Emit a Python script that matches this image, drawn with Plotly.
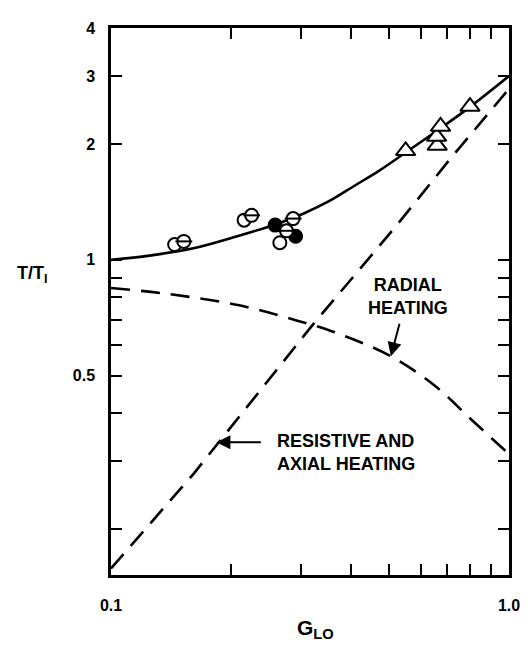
import numpy as np
import plotly.graph_objects as go

# ---- data ----
# total (solid curve)
g_total = [0.1, 0.125, 0.16, 0.2065, 0.261, 0.305, 0.353, 0.41, 0.47, 0.55, 0.67, 0.80, 1.0]
t_total = [1.0, 1.026, 1.07, 1.15, 1.24, 1.32, 1.42, 1.56, 1.70, 1.90, 2.19, 2.50, 3.0]

# radial heating (dashed)
g_radial = [0.1, 0.14, 0.21, 0.294, 0.36, 0.50, 0.65, 0.80, 1.0]
t_radial = [0.845, 0.815, 0.762, 0.695, 0.652, 0.565, 0.472, 0.387, 0.313]

# resistive and axial heating (dashed)
g_resist = [0.1, 0.162, 0.32, 0.519, 0.712, 1.0]
t_resist = [0.158, 0.28, 0.675, 1.22, 1.83, 2.78]

# data points
g_open = [0.1445, 0.216, 0.2656]
t_open = [1.096, 1.268, 1.108]
g_theta = [0.1524, 0.2256, 0.2868, 0.276]
t_theta = [1.117, 1.305, 1.28, 1.19]
g_filled = [0.2585, 0.291]
t_filled = [1.231, 1.152]
g_tri = [0.55, 0.66, 0.658, 0.673, 0.798]
t_tri = [1.92, 1.98, 2.09, 2.22, 2.50]

x_tickvals = [0.1, 0.2, 0.3, 0.4, 0.5, 0.6, 0.7, 0.8, 0.9, 1.0]
x_ticktext = ["0.1", "", "", "", "", "", "", "", "", "1.0"]
y_tickvals = [0.2, 0.3, 0.4, 0.5, 0.6, 0.7, 0.8, 0.9, 1, 2, 3, 4]
y_ticktext = ["", "", "", "0.5", "", "", "", "", "1", "2", "3", "4"]

FONT = "Liberation Sans"
fig = go.Figure()

fig.add_trace(go.Scatter(x=g_radial, y=t_radial, mode="lines",
                         line=dict(color="black", width=2.6, dash="19px,11px", shape="spline", smoothing=1.0)))
fig.add_trace(go.Scatter(x=g_resist, y=t_resist, mode="lines",
                         line=dict(color="black", width=2.6, dash="19px,11px")))
fig.add_trace(go.Scatter(x=g_total, y=t_total, mode="lines",
                         line=dict(color="black", width=2.6, shape="spline", smoothing=1.0)))

fig.add_trace(go.Scatter(x=g_open, y=t_open, mode="markers",
                         marker=dict(symbol="circle", size=13, color="white",
                                     line=dict(color="black", width=2))))
fig.add_trace(go.Scatter(x=g_filled, y=t_filled, mode="markers",
                         marker=dict(symbol="circle", size=13, color="black",
                                     line=dict(color="black", width=2))))
fig.add_trace(go.Scatter(x=g_theta, y=t_theta, mode="markers",
                         marker=dict(symbol="circle", size=13, color="white",
                                     line=dict(color="black", width=2))))
fig.add_trace(go.Scatter(x=g_theta, y=t_theta, mode="markers",
                         marker=dict(symbol="line-ew-open", size=12, color="black",
                                     line=dict(color="black", width=2))))
fig.add_trace(go.Scatter(x=g_tri, y=t_tri, mode="markers",
                         marker=dict(symbol="triangle-up", size=17, color="white",
                                     line=dict(color="black", width=2))))

tickfont = dict(family=FONT, size=16, color="black", weight="bold")
fig.update_xaxes(type="log", range=[-1, 0], tickvals=x_tickvals, ticktext=x_ticktext,
                 ticks="inside", ticklen=11, tickwidth=2, tickcolor="black",
                 showline=True, linewidth=2.5, linecolor="black", mirror="ticks",
                 showgrid=False, zeroline=False, tickfont=tickfont, ticklabelstandoff=14)
fig.update_yaxes(type="log", range=[np.log10(0.152), np.log10(4)], tickvals=y_tickvals, ticktext=y_ticktext,
                 ticks="inside", ticklen=11, tickwidth=2, tickcolor="black",
                 showline=True, linewidth=2.5, linecolor="black", mirror="ticks",
                 showgrid=False, zeroline=False, tickfont=tickfont, ticklabelstandoff=10)

ann_font = dict(family=FONT, size=18, color="black", weight="bold")
fig.add_annotation(x=0.745, y=0.51, xref="paper", yref="paper", text="RADIAL<br>HEATING",
                   showarrow=False, align="center", xanchor="center", yanchor="middle", font=ann_font)
fig.add_annotation(x=0.413, y=0.2234, xref="paper", yref="paper", text="RESISTIVE AND<br>AXIAL HEATING",
                   showarrow=False, align="left", xanchor="left", yanchor="middle", font=ann_font)
fig.add_annotation(x=np.log10(0.505), y=np.log10(0.562), text="", showarrow=True,
                   ax=9, ay=-34, arrowhead=2, arrowsize=1.4, arrowwidth=2, arrowcolor="black")
fig.add_annotation(x=np.log10(0.184), y=np.log10(0.336), text="", showarrow=True,
                   ax=46, ay=0, arrowhead=2, arrowsize=1.4, arrowwidth=2, arrowcolor="black")
fig.add_annotation(x=-0.1975, y=0.55, xref="paper", yref="paper", text="T/T<sub>I</sub>",
                   showarrow=False, xanchor="center", yanchor="middle",
                   font=dict(family=FONT, size=18, color="black", weight="bold"))
fig.add_annotation(x=0.515, y=-0.099, xref="paper", yref="paper", text="G<sub>LO</sub>",
                   showarrow=False, xanchor="center", yanchor="middle",
                   font=dict(family=FONT, size=21, color="black", weight="bold"))

fig.update_layout(width=524, height=638, margin=dict(l=103, r=21, t=12, b=71),
                  plot_bgcolor="white", paper_bgcolor="white", showlegend=False)

fig.write_html("out.html")
